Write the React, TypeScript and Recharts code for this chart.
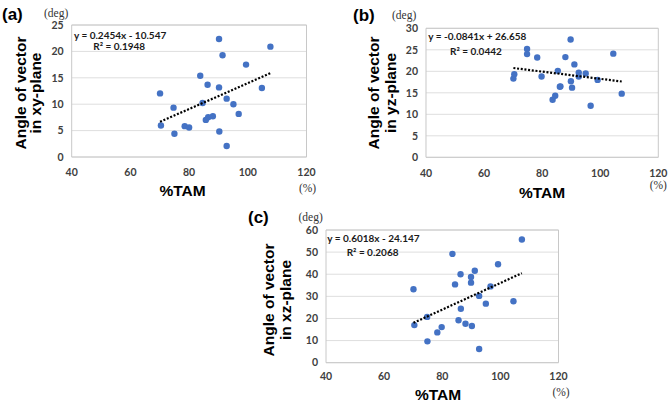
import React from "react";
import {
  ScatterChart,
  Scatter,
  XAxis,
  YAxis,
  CartesianGrid,
  ReferenceArea,
} from "recharts";

// ---- data ----
const xTicks = [40, 60, 80, 100, 120];

const tamA = [70.1, 70.4, 74.7, 75.0, 78.5, 80.0, 83.8, 84.6, 86.3, 85.7, 86.5, 88.1, 90.2, 90.2, 90.3, 91.4, 92.8, 92.8, 95.1, 96.9, 99.4, 104.8, 107.7];
const angleXY = [12.05, 5.96, 9.35, 4.39, 5.84, 5.59, 15.38, 10.23, 13.68, 7.03, 7.53, 7.72, 22.35, 13.18, 4.83, 19.27, 11.05, 2.07, 9.98, 8.16, 17.5, 13.06, 20.9];
const yTicksA = [0, 5, 10, 15, 20, 25];
const trendA = [
  { x: 70.1, y: 6.66 },
  { x: 107.7, y: 15.88 },
];

const tamB = [70.1, 70.4, 74.8, 74.8, 78.3, 79.8, 83.6, 84.5, 85.4, 86.1, 86.3, 88.0, 89.8, 89.9, 90.3, 91.1, 92.6, 92.6, 95.0, 96.7, 99.1, 104.5, 107.4];
const angleYZ = [18.3, 19.3, 25.2, 24.0, 23.2, 18.8, 13.4, 14.3, 20.1, 16.4, 16.5, 23.3, 27.4, 17.7, 16.2, 21.6, 19.7, 18.8, 19.5, 12.0, 18.0, 24.1, 14.8];
const yTicksB = [0, 5, 10, 15, 20, 25, 30];
const trendB = [
  { x: 70.1, y: 20.76 },
  { x: 107.4, y: 17.63 },
];

const tamC = [70.1, 70.4, 74.8, 74.9, 78.3, 79.8, 83.5, 84.4, 85.6, 86.3, 86.4, 88.0, 89.9, 89.9, 90.2, 91.2, 92.7, 92.7, 95.0, 96.6, 99.2, 104.5, 107.4];
const angleXZ = [33.2, 17.0, 20.7, 9.65, 13.7, 16.1, 49.2, 35.4, 19.2, 40.0, 24.4, 17.6, 38.8, 36.2, 16.6, 41.6, 30.2, 6.2, 26.7, 34.5, 44.5, 27.8, 55.7];
const yTicksC = [0, 10, 20, 30, 40, 50, 60];
const trendC = [
  { x: 70.1, y: 18.04 },
  { x: 107.4, y: 40.49 },
];

const toPoints = (xs: number[], ys: number[]) => xs.map((x, i) => ({ x, y: ys[i] }));

const BLUE = "#4472C4";
const TICK_FONT = { fontFamily: "Lato, 'Open Sans', sans-serif", fontSize: 10.5, fontWeight: 700, fill: "#404040" };

const Dot = (props: any) => <circle cx={props.cx} cy={props.cy} r={3.2} fill={BLUE} />;
const NoDot = () => <g />;

type PanelProps = {
  left: number;
  top: number;
  width: number;
  height: number;
  margin: { top: number; right: number; bottom: number; left: number };
  points: { x: number; y: number }[];
  trend: { x: number; y: number }[];
  yTicks: number[];
  xTickMargin: number;
};

function Panel(p: PanelProps) {
  const yMax = p.yTicks[p.yTicks.length - 1];
  return (
    <div style={{ position: "absolute", left: p.left, top: p.top, width: p.width, height: p.height }}>
      <ScatterChart width={p.width} height={p.height} margin={{ top: p.margin.top, right: p.margin.right, bottom: 0, left: 0 }}>
        <CartesianGrid horizontal vertical={false} stroke="#dedede" />
        <XAxis
          type="number"
          dataKey="x"
          domain={[40, 120]}
          ticks={xTicks}
          axisLine={false}
          tickLine={false}
          tickSize={0}
          tickMargin={p.xTickMargin}
          height={p.margin.bottom}
          tick={TICK_FONT}
          interval={0}
        />
        <YAxis
          type="number"
          dataKey="y"
          domain={[0, yMax]}
          ticks={p.yTicks}
          axisLine={false}
          tickLine={false}
          tickSize={0}
          tickMargin={8}
          width={p.margin.left}
          tick={TICK_FONT}
          interval={0}
        />
        <ReferenceArea x1={40} x2={120} y1={0} y2={yMax} fill="none" stroke="#c8c8c8" strokeWidth={1} ifOverflow="visible" />
        <Scatter data={p.points} shape={Dot} isAnimationActive={false} />
        <Scatter
          data={p.trend}
          shape={NoDot}
          line={{ stroke: "#000", strokeWidth: 2.2, strokeDasharray: "2 1.7" }}
          isAnimationActive={false}
        />
      </ScatterChart>
    </div>
  );
}

const titleFont = { fontFamily: "'Liberation Sans', Arial, sans-serif", fontWeight: 700, fill: "#000" };
const eqFont = { fontFamily: "Lato, 'Open Sans', sans-serif", fontWeight: 700, fontSize: 10, fill: "#1a1a1a" };
const unitFont = { fontFamily: "'Liberation Serif', 'DejaVu Serif', serif", fontSize: 11.5, fill: "#333" };

function VTitle({ x1, x2, y, line2 }: { x1: number; x2: number; y: number; line2: string }) {
  return (
    <g>
      <text transform={`translate(${x1},${y}) rotate(-90)`} textAnchor="middle" dominantBaseline="central" fontSize={15.5} {...titleFont}>
        Angle of vector
      </text>
      <text transform={`translate(${x2},${y}) rotate(-90)`} textAnchor="middle" dominantBaseline="central" fontSize={15.5} {...titleFont}>
        {line2}
      </text>
    </g>
  );
}

export default function App() {
  return (
    <div style={{ position: "absolute", left: 0, top: 0, width: 669, height: 402, background: "#fff", overflow: "hidden" }}>
      <Panel
        left={0}
        top={0}
        width={330}
        height={200}
        margin={{ top: 25, right: 23.5, bottom: 43, left: 71.7 }}
        points={toPoints(tamA, angleXY)}
        trend={trendA}
        yTicks={yTicksA}
        xTickMargin={12}
      />
      <Panel
        left={335}
        top={0}
        width={334}
        height={200}
        margin={{ top: 28.3, right: 10.7, bottom: 42.7, left: 91 }}
        points={toPoints(tamB, angleYZ)}
        trend={trendB}
        yTicks={yTicksB}
        xTickMargin={12}
      />
      <Panel
        left={170}
        top={200}
        width={400}
        height={202}
        margin={{ top: 30, right: 11.5, bottom: 39.3, left: 156 }}
        points={toPoints(tamC, angleXZ)}
        trend={trendC}
        yTicks={yTicksC}
        xTickMargin={10}
      />
      <svg width={669} height={402} style={{ position: "absolute", left: 0, top: 0, pointerEvents: "none" }}>
        {/* panel a */}
        <text x={2} y={19.5} fontSize={17} {...titleFont}>(a)</text>
        <text x={44} y={16.5} {...unitFont}>(deg)</text>
        <VTitle x1={20} x2={35.5} y={93} line2="in xy-plane" />
        <text x={182.5} y={196} textAnchor="middle" fontSize={15.5} {...titleFont}>%TAM</text>
        <text x={307.5} y={192} textAnchor="middle" {...unitFont}>(%)</text>
        <text x={74} y={38.5} {...eqFont}>y = 0.2454x - 10.547</text>
        <text x={93.3} y={49.5} {...eqFont}>R² = 0.1948</text>

        {/* panel b */}
        <text x={353} y={20.5} fontSize={17} {...titleFont}>(b)</text>
        <text x={392} y={18.5} {...unitFont}>(deg)</text>
        <VTitle x1={373.3} x2={390} y={93} line2="in yz-plane" />
        <text x={542} y={198} textAnchor="middle" fontSize={15.5} {...titleFont}>%TAM</text>
        <text x={658.3} y={189} textAnchor="middle" {...unitFont}>(%)</text>
        <text x={428.3} y={40} {...eqFont}>y = -0.0841x + 26.658</text>
        <text x={450} y={55} {...eqFont}>R² = 0.0442</text>

        {/* panel c */}
        <text x={248} y={222.5} fontSize={17} {...titleFont}>(c)</text>
        <text x={298.5} y={221} {...unitFont}>(deg)</text>
        <VTitle x1={268.8} x2={285.8} y={300} line2="in xz-plane" />
        <text x={438} y={400} textAnchor="middle" fontSize={15.5} {...titleFont}>%TAM</text>
        <text x={561} y={396} textAnchor="middle" {...unitFont}>(%)</text>
        <text x={327.3} y={241.8} {...eqFont}>y = 0.6018x - 24.147</text>
        <text x={346.7} y={255.8} {...eqFont}>R² = 0.2068</text>
      </svg>
    </div>
  );
}
